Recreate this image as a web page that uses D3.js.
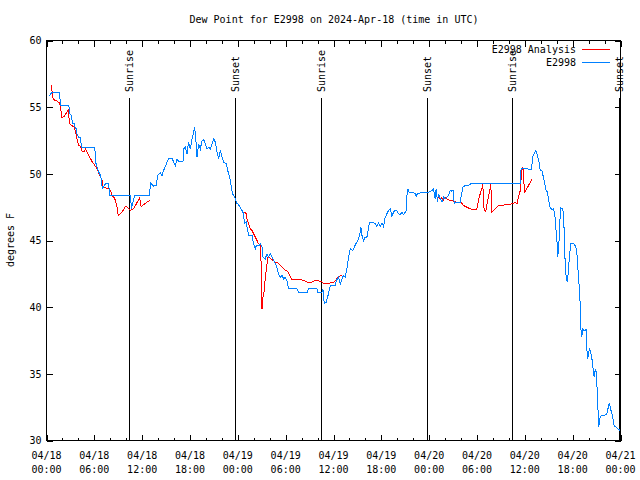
<!DOCTYPE html>
<html>
<head>
<meta charset="utf-8">
<script src="https://cdn.jsdelivr.net/npm/d3@7"></script>
<style>
  html, body { margin: 0; padding: 0; background: #fff; }
  svg { display: block; }
  text { font-family: "DejaVu Sans Mono", "Liberation Mono", monospace; font-size: 10px; fill: #000; }
</style>
</head>
<body>
<svg id="chart" width="640" height="480"></svg>
<script>
// ---- Data (hours since 2024-04-18 00:00 UTC) ----
const titleText = "Dew Point for E2998 on 2024-Apr-18 (time in UTC)";
const yLabelText = "degrees F";
const seriesNames = ["E2998 Analysis", "E2998"];
const yTicks = [30, 35, 40, 45, 50, 55, 60];

const stationHours = [0.31,0.65,1.65,1.74,2.81,2.9,3.15,3.24,3.49,3.56,3.74,3.86,4.06,4.24,4.4,6.06,6.15,6.36,6.56,6.78,6.9,6.99,7.4,7.81,7.9,10.53,10.65,10.81,11.06,12.94,13.03,13.44,13.78,13.94,14.28,14.49,14.69,15.03,15.32,15.75,15.95,16.16,16.37,16.57,17.12,17.2,17.41,17.62,17.82,18.04,18.25,18.46,18.58,18.76,18.88,19.08,19.3,19.51,19.71,19.92,20.13,20.34,20.56,20.77,20.97,21.18,21.39,21.59,21.81,22.02,22.23,22.57,22.73,22.98,23.15,23.32,23.6,23.82,24.1,24.53,24.73,24.82,25.07,25.15,25.35,25.78,25.98,26.19,26.32,26.73,26.82,27.03,27.15,27.44,27.65,27.85,28.07,28.28,28.48,28.7,28.9,29.1,29.33,29.54,29.74,29.95,30.16,30.36,31.41,31.61,32.74,32.86,33.92,34.0,34.55,34.67,34.84,35.09,35.37,35.6,36.22,36.35,36.63,36.85,37.06,37.26,37.47,37.68,37.88,38.1,38.43,38.6,38.85,39.14,39.27,39.44,39.57,39.77,39.98,40.19,40.39,40.52,40.94,41.24,41.45,41.65,41.87,42.08,42.28,42.49,42.7,42.9,43.12,43.33,43.53,43.74,43.95,44.16,44.38,44.59,44.79,45.0,45.13,45.21,45.34,45.46,46.25,46.38,46.54,47.71,47.91,48.34,48.54,48.75,48.88,49.04,49.16,49.38,49.6,49.8,50.0,50.21,50.41,50.63,50.84,51.04,51.13,51.67,51.89,52.22,52.51,52.92,53.35,59.41,59.53,59.82,60.24,60.87,60.94,61.16,61.37,61.58,61.79,61.92,62.13,62.33,62.54,62.67,62.83,62.95,63.17,63.38,63.58,63.7,63.79,63.92,64.09,64.14,64.21,64.34,64.46,64.68,64.84,64.93,65.05,65.18,65.34,65.46,65.59,65.76,66.09,66.3,66.51,66.64,66.8,66.93,67.01,67.14,67.26,67.43,67.68,67.76,67.89,68.01,68.09,68.26,68.39,68.52,68.69,68.81,68.9,69.02,69.15,69.27,69.44,69.65,70.27,70.47,70.6,70.81,71.02,71.19,71.53,71.82,72.0];
const stationDew = [55.82,56.08,56.08,55.13,55.13,54.53,54.38,53.8,53.75,53.5,53.38,52.88,52.75,52.75,52.0,52.0,50.88,50.5,50.13,49.88,49.5,48.88,49.25,49.25,48.38,48.38,47.38,47.75,48.38,48.38,49.33,49.07,49.13,49.88,50.08,49.88,50.25,50.75,51.13,51.18,50.88,50.63,51.13,50.93,50.93,51.88,52.0,51.5,52.38,51.88,52.63,53.13,53.5,52.38,51.25,52.25,51.88,52.5,52.58,52.25,51.88,52.0,51.88,52.25,52.63,52.38,51.63,51.13,51.75,51.25,50.88,50.75,50.25,49.75,49.13,48.5,48.3,47.83,47.68,47.25,47.0,46.25,46.38,46.0,45.38,45.38,44.75,44.38,44.63,44.63,44.75,44.5,43.75,43.63,44.0,43.75,44.0,43.75,43.5,43.25,43.0,42.5,42.25,42.38,42.13,42.25,42.0,41.38,41.38,41.13,41.13,41.38,41.38,41.13,41.13,41.38,40.3,40.38,41.0,41.63,41.63,42.0,42.25,41.75,42.13,42.38,42.25,42.88,43.75,44.38,44.25,44.5,44.8,45.13,45.38,46.0,45.38,45.0,45.25,45.25,45.88,46.38,46.38,46.25,46.05,46.3,46.05,46.3,46.05,46.75,47.0,47.25,47.38,46.8,47.13,47.25,47.25,47.0,46.95,47.13,46.95,47.13,47.25,48.38,48.88,48.63,48.55,48.3,48.55,48.6,48.63,48.75,48.88,48.13,48.88,47.88,48.5,48.13,47.88,48.25,48.13,48.25,48.38,48.75,48.7,48.75,47.8,47.88,47.88,49.0,49.13,49.13,49.3,49.3,50.38,50.38,50.38,50.3,51.25,51.5,51.75,51.38,50.88,50.3,50.25,49.75,49.13,48.75,48.63,48.13,47.5,47.3,47.38,47.13,46.75,45.75,44.5,43.75,44.5,45.25,47.5,47.38,47.13,45.75,43.5,42.25,41.88,42.75,43.75,44.75,44.8,44.63,44.25,43.0,41.75,40.38,38.5,37.75,38.38,38.25,38.3,37.0,36.13,36.5,36.88,36.63,36.25,35.63,34.75,35.25,35.38,34.5,32.75,31.0,31.75,31.88,31.93,32.5,32.8,32.25,31.8,31.13,30.95,30.8,30.75];

// Analysis: null marks a gap between segments
const analysisHours = [0.65,0.74,0.94,1.36,1.65,1.78,1.9,2.19,2.49,2.74,2.81,2.9,3.15,3.44,3.56,3.74,3.86,4.06,4.28,4.4,4.69,4.9,5.11,5.31,5.53,5.74,5.94,6.15,6.36,6.56,6.78,6.99,7.11,7.4,7.81,8.03,8.24,8.44,8.65,8.86,8.99,9.28,9.49,9.9,10.11,10.31,10.53,10.94,11.36,11.69,11.86,12.19,12.61,12.94,
  18.0,
  24.82,25.07,25.15,25.35,25.57,25.78,25.98,26.19,26.4,26.6,26.82,26.9,26.94,26.98,27.07,27.15,27.32,27.44,27.57,27.65,27.73,27.98,28.15,28.4,28.7,29.1,29.54,29.95,30.24,30.49,30.79,32.04,32.45,32.86,33.29,33.49,33.92,34.34,34.55,34.75,35.37,35.6,36.01,36.22,36.43,36.63,37.06,
  42.0,
  48.63,48.88,49.16,49.38,49.6,49.8,50.0,50.21,50.63,51.04,51.46,51.89,52.1,52.3,52.72,53.14,53.56,53.98,54.18,54.4,54.61,54.73,54.81,54.9,55.11,55.27,55.43,55.65,55.73,55.86,56.28,56.69,56.99,57.53,57.95,58.39,58.59,58.8,59.01,59.21,59.43,59.51,59.64,59.76,59.84,59.96,60.26,60.47,60.69,60.9];
const analysisDew = [56.63,55.75,55.55,55.45,55.3,55.0,54.2,54.3,54.55,54.8,54.25,53.75,53.63,53.5,53.3,52.88,52.5,52.13,52.05,51.75,51.63,51.88,51.63,51.38,51.13,50.88,50.75,50.55,50.38,50.0,49.75,49.5,49.0,48.95,48.88,48.75,48.38,48.25,48.0,47.5,46.88,47.0,47.13,47.55,47.5,47.38,47.25,47.38,47.85,48.2,47.55,47.7,47.88,48.0,
  null,
  47.13,47.0,46.63,46.25,45.88,45.75,45.5,45.25,45.0,44.75,44.63,44.0,40.5,39.88,39.88,40.75,41.25,42.25,42.75,43.13,43.75,43.75,43.63,43.5,43.38,43.3,43.0,42.75,42.7,42.38,42.05,42.05,41.95,41.83,41.88,41.95,42.0,41.95,41.88,41.75,41.75,41.83,41.83,42.0,42.13,42.3,42.38,
  null,
  48.5,48.3,48.2,48.13,48.2,48.05,48.2,48.13,48.0,47.95,47.88,47.88,47.8,47.63,47.5,47.38,47.33,47.33,48.0,48.5,48.88,49.2,48.0,47.25,47.2,47.78,48.25,48.9,49.25,47.13,47.38,47.63,47.63,47.68,47.7,47.75,47.8,47.88,47.75,48.25,48.75,49.5,50.25,50.5,49.75,48.63,48.9,49.13,49.38,49.63];

const sunEventHours = [10.35, 23.68, 34.4, 47.75, 58.4, 71.8];
const sunEventNames = ["Sunrise", "Sunset", "Sunrise", "Sunset", "Sunrise", "Sunset"];

const colors = { analysis: "#ff0000", station: "#0080ff" };

// ---- Layout ----
const L = 46, R = 620, T = 40, B = 440;
const t0 = Date.UTC(2024, 3, 18, 0, 0);
const t1 = Date.UTC(2024, 3, 21, 0, 0);
const toDate = h => new Date(t0 + h * 3600e3);

const svg = d3.select("#chart");
const x = d3.scaleUtc().domain([new Date(t0), new Date(t1)]).range([L + 0.5, R + 0.5]);
const y = d3.scaleLinear().domain([30, 60]).range([B + 0.5, T + 0.5]);

// Title
svg.append("text").attr("x", (L + R) / 2 + 1).attr("y", 23)
  .attr("text-anchor", "middle").text(titleText);

// Y label
svg.append("text").attr("transform", `translate(14,${(T + B) / 2}) rotate(-90)`)
  .attr("text-anchor", "middle").text(yLabelText);

// Axes
const fmtDate = d3.utcFormat("%m/%d");
const fmtTime = d3.utcFormat("%H:%M");
const majorTicks = d3.utcHour.every(6).range(new Date(t0), new Date(t1 + 1));
const minorTicks = d3.utcHour.every(2).range(new Date(t0), new Date(t1 + 1)).filter(d => d.getUTCHours() % 6 !== 0);

const gx = svg.append("g").attr("transform", `translate(0,${B + 0.5})`)
  .call(d3.axisBottom(x).tickValues(majorTicks).tickSizeInner(-6).tickSizeOuter(0).tickFormat(""));
gx.select(".domain").remove();
const gxMinor = svg.append("g").attr("transform", `translate(0,${B + 0.5})`)
  .call(d3.axisBottom(x).tickValues(minorTicks).tickSizeInner(-3).tickSizeOuter(0).tickFormat(""));
gxMinor.select(".domain").remove();
const gxt = svg.append("g").attr("transform", `translate(0,${T + 0.5})`)
  .call(d3.axisTop(x).tickValues(majorTicks).tickSizeInner(-6).tickSizeOuter(0).tickFormat(""));
gxt.select(".domain").remove();
const gxtMinor = svg.append("g").attr("transform", `translate(0,${T + 0.5})`)
  .call(d3.axisTop(x).tickValues(minorTicks).tickSizeInner(-3).tickSizeOuter(0).tickFormat(""));
gxtMinor.select(".domain").remove();

const gy = svg.append("g").attr("transform", `translate(${L + 0.5},0)`)
  .call(d3.axisLeft(y).tickValues(yTicks).tickSizeInner(-6).tickSizeOuter(0).tickPadding(5).tickFormat(d3.format("d")));
gy.select(".domain").remove();
gy.selectAll("text").attr("x", -5);
const gyr = svg.append("g").attr("transform", `translate(${R + 0.5},0)`)
  .call(d3.axisRight(y).tickValues(yTicks).tickSizeInner(-6).tickSizeOuter(0).tickFormat(""));
gyr.select(".domain").remove();

svg.selectAll(".tick line").attr("stroke", "#000").attr("shape-rendering", "crispEdges");
svg.selectAll("g").attr("font-family", null).attr("font-size", null);

// X tick labels (two lines)
const xl = svg.append("g");
majorTicks.forEach(d => {
  const t = xl.append("text").attr("x", x(d)).attr("text-anchor", "middle");
  t.append("tspan").attr("x", x(d)).attr("y", 459).text(fmtDate(d));
  t.append("tspan").attr("x", x(d)).attr("y", 473).text(fmtTime(d));
});

// Sunrise / sunset lines
sunEventHours.forEach((h, i) => {
  const sx = Math.round(x(toDate(h))) + 0.5;
  svg.append("line").attr("x1", sx).attr("x2", sx).attr("y1", 98).attr("y2", B)
    .attr("stroke", "#000").attr("shape-rendering", "crispEdges");
  svg.append("text").attr("transform", `translate(${sx + 3.5},92) rotate(-90)`)
    .attr("text-anchor", "start").text(sunEventNames[i]);
});

// Series
const stationData = stationHours.map((h, i) => ({ t: toDate(h), v: stationDew[i] }));
const analysisData = analysisHours.map((h, i) => ({ t: toDate(h), v: analysisDew[i] }));
const line = d3.line().defined(d => d.v !== null).x(d => x(d.t)).y(d => y(d.v));

svg.append("path").datum(analysisData).attr("d", line)
  .attr("fill", "none").attr("stroke", colors.analysis).attr("stroke-width", 1)
  .attr("shape-rendering", "crispEdges");
svg.append("path").datum(stationData).attr("d", line)
  .attr("fill", "none").attr("stroke", colors.station).attr("stroke-width", 1)
  .attr("shape-rendering", "crispEdges");

// Border
svg.append("rect").attr("x", L + 0.5).attr("y", T + 0.5).attr("width", R - L).attr("height", B - T)
  .attr("fill", "none").attr("stroke", "#000").attr("shape-rendering", "crispEdges");

// Legend
const legendY = [49, 62];
const legendColors = [colors.analysis, colors.station];
seriesNames.forEach((name, i) => {
  svg.append("text").attr("x", 576).attr("y", legendY[i] + 4).attr("text-anchor", "end").text(name);
  svg.append("line").attr("x1", 582).attr("x2", 610).attr("y1", legendY[i] + 0.5).attr("y2", legendY[i] + 0.5)
    .attr("stroke", legendColors[i]).attr("shape-rendering", "crispEdges");
});
</script>
</body>
</html>
